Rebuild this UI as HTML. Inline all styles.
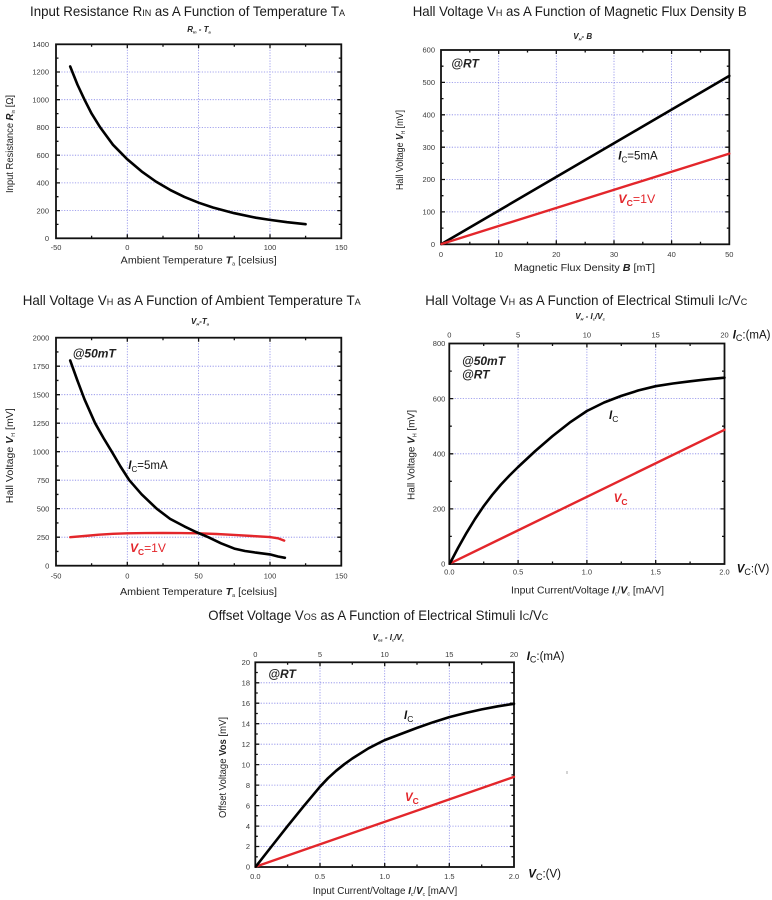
<!DOCTYPE html>
<html><head><meta charset="utf-8"><style>
html,body{margin:0;padding:0;background:#fff;}
svg{display:block;}
text{font-family:"Liberation Sans",Arial,sans-serif;}
.t{font-size:14px;fill:#1a1a1a;}
.tk{font-size:7.5px;fill:#3a3a3a;}
.ax{font-size:10px;fill:#222;}
.g{stroke:#8888e8;stroke-width:0.8;stroke-dasharray:1.2 1.5;fill:none;}
.fr{fill:none;stroke:#111;stroke-width:1.8;}
.tm{stroke:#111;stroke-width:1.3;fill:none;}
.cb{fill:none;stroke:#000;stroke-width:2.6;stroke-linejoin:round;stroke-linecap:round;}
.cr{fill:none;stroke:#e3262b;stroke-width:2.4;stroke-linejoin:round;stroke-linecap:round;}
.st{font-size:8px;font-weight:bold;font-style:italic;fill:#222;}
.lb{font-size:11.5px;fill:#111;}
.lr{font-size:11.5px;fill:#e3262b;}
.at{font-size:12px;font-weight:bold;font-style:italic;fill:#222;}
.bi{font-weight:bold;font-style:italic;}
</style></head><body>
<svg width="772" height="900" viewBox="0 0 772 900" xmlns="http://www.w3.org/2000/svg">
<rect width="772" height="900" fill="#fff"/>

<!-- ================= Chart 1 ================= -->
<text class="t" x="30" y="16" textLength="315" lengthAdjust="spacingAndGlyphs">Input Resistance R<tspan font-size="9.5">IN</tspan> as A Function of Temperature T<tspan font-size="9.5">A</tspan></text>
<text class="st" x="199" y="32" text-anchor="middle">R<tspan font-size="4" dy="1.5">in</tspan><tspan dy="-1.5"> - T</tspan><tspan font-size="4" dy="1.5">a</tspan></text>
<path class="g" d="M127.3 44.3V238.3M198.6 44.3V238.3M270 44.3V238.3M56 72H341.3M56 99.7H341.3M56 127.4H341.3M56 155.2H341.3M56 182.9H341.3M56 210.6H341.3"/>
<path class="tm" d="M56 72h4M56 99.7h4M56 127.4h4M56 155.2h4M56 182.9h4M56 210.6h4M56 58.1h2.5M56 85.8h2.5M56 113.6h2.5M56 141.3h2.5M56 169h2.5M56 196.7h2.5M56 224.4h2.5M341.3 72h-4M341.3 99.7h-4M341.3 127.4h-4M341.3 155.2h-4M341.3 182.9h-4M341.3 210.6h-4M341.3 58.1h-2.5M341.3 85.8h-2.5M341.3 113.6h-2.5M341.3 141.3h-2.5M341.3 169h-2.5M341.3 196.7h-2.5M341.3 224.4h-2.5M127.3 238.3v-4M198.6 238.3v-4M270 238.3v-4M91.6 238.3v-2.5M163 238.3v-2.5M234.3 238.3v-2.5M305.6 238.3v-2.5M127.3 44.3v4M198.6 44.3v4M270 44.3v4M91.6 44.3v2.5M163 44.3v2.5M234.3 44.3v2.5M305.6 44.3v2.5"/>
<rect class="fr" x="56" y="44.3" width="285.3" height="194"/>
<path class="cb" d="M70.2 66.5L77.4 84.5L84.5 99.7L91.6 113.6L100.2 127.4L113 144.8L127.3 159.3L141.6 171.4L155.8 181.5L170.1 189.9L184.4 196.9L198.6 202.7L212.9 207.5L234.3 213.2L255.7 217.7L270 219.9L287.1 222.2L305.6 224.2"/>
<g class="tk" text-anchor="end">
<text x="49" y="47">1400</text><text x="49" y="74.7">1200</text><text x="49" y="102.4">1000</text><text x="49" y="130.1">800</text><text x="49" y="157.9">600</text><text x="49" y="185.6">400</text><text x="49" y="213.3">200</text><text x="49" y="241">0</text>
</g>
<g class="tk" text-anchor="middle">
<text x="56" y="250">-50</text><text x="127.3" y="250">0</text><text x="198.6" y="250">50</text><text x="270" y="250">100</text><text x="341.3" y="250">150</text>
</g>
<text class="ax" x="120.7" y="263.5" textLength="156" lengthAdjust="spacingAndGlyphs">Ambient Temperature <tspan class="bi">T</tspan><tspan font-size="5" dy="2">a</tspan><tspan dy="-2"> [celsius]</tspan></text>
<text class="ax" transform="translate(13,144) rotate(-90)" text-anchor="middle" textLength="98" lengthAdjust="spacingAndGlyphs">Input Resistance <tspan class="bi">R</tspan><tspan font-size="5" dy="2">in</tspan><tspan dy="-2"> [Ω]</tspan></text>

<!-- ================= Chart 2 ================= -->
<text class="t" x="412.7" y="16" textLength="334" lengthAdjust="spacingAndGlyphs">Hall Voltage V<tspan font-size="9.5">H</tspan> as A Function of Magnetic Flux Density B</text>
<text class="st" x="582.7" y="39" text-anchor="middle">V<tspan font-size="4" dy="1.5">H</tspan><tspan dy="-1.5">- B</tspan></text>
<path class="g" d="M498.7 50V244.3M556.3 50V244.3M614 50V244.3M671.6 50V244.3M441 82.4H729.3M441 114.8H729.3M441 147.2H729.3M441 179.5H729.3M441 211.9H729.3"/>
<path class="tm" d="M441 82.4h4M441 114.8h4M441 147.2h4M441 179.5h4M441 211.9h4M441 66.2h2.5M441 98.6h2.5M441 131h2.5M441 163.3h2.5M441 195.7h2.5M441 228.1h2.5M729.3 82.4h-4M729.3 114.8h-4M729.3 147.2h-4M729.3 179.5h-4M729.3 211.9h-4M729.3 66.2h-2.5M729.3 98.6h-2.5M729.3 131h-2.5M729.3 163.3h-2.5M729.3 195.7h-2.5M729.3 228.1h-2.5M498.7 244.3v-4M556.3 244.3v-4M614 244.3v-4M671.6 244.3v-4M469.8 244.3v-2.5M527.5 244.3v-2.5M585.2 244.3v-2.5M642.8 244.3v-2.5M700.5 244.3v-2.5M498.7 50v4M556.3 50v4M614 50v4M671.6 50v4M469.8 50v2.5M527.5 50v2.5M585.2 50v2.5M642.8 50v2.5M700.5 50v2.5"/>
<rect class="fr" x="441" y="50" width="288.3" height="194.3"/>
<path class="cb" d="M441.5 244L729.3 75.9"/>
<path class="cr" d="M441.5 244L729.3 153.6"/>
<text class="at" x="451.3" y="67.5">@RT</text>
<text class="lb" x="618.3" y="159.5"><tspan class="bi">I</tspan><tspan font-size="8" dy="3">C</tspan><tspan dy="-3">=5mA</tspan></text>
<text class="lr" x="618.3" y="203" textLength="37" lengthAdjust="spacingAndGlyphs"><tspan class="bi">V</tspan><tspan font-size="8" dy="3" font-weight="bold">C</tspan><tspan dy="-3">=1V</tspan></text>
<g class="tk" text-anchor="end">
<text x="435" y="52.7">600</text><text x="435" y="85.1">500</text><text x="435" y="117.5">400</text><text x="435" y="149.9">300</text><text x="435" y="182.2">200</text><text x="435" y="214.6">100</text><text x="435" y="247">0</text>
</g>
<g class="tk" text-anchor="middle">
<text x="441" y="257">0</text><text x="498.7" y="257">10</text><text x="556.3" y="257">20</text><text x="614" y="257">30</text><text x="671.6" y="257">40</text><text x="729.3" y="257">50</text>
</g>
<text class="ax" x="514" y="271" textLength="141" lengthAdjust="spacingAndGlyphs">Magnetic Flux Density <tspan class="bi">B</tspan> [mT]</text>
<text class="ax" transform="translate(403,150) rotate(-90)" text-anchor="middle" textLength="80" lengthAdjust="spacingAndGlyphs">Hall Voltage <tspan class="bi">V</tspan><tspan font-size="5" dy="2">H</tspan><tspan dy="-2"> [mV]</tspan></text>

<!-- ================= Chart 3 ================= -->
<text class="t" x="22.7" y="305" textLength="338" lengthAdjust="spacingAndGlyphs">Hall Voltage V<tspan font-size="9.5">H</tspan> as A Function of Ambient Temperature T<tspan font-size="9.5">A</tspan></text>
<text class="st" x="200" y="324" text-anchor="middle">V<tspan font-size="4" dy="1.5">H</tspan><tspan dy="-1.5">-T</tspan><tspan font-size="4" dy="1.5">a</tspan></text>
<path class="g" d="M127.3 337.7V565.7M198.6 337.7V565.7M270 337.7V565.7M56 366.2H341.3M56 394.7H341.3M56 423.2H341.3M56 451.7H341.3M56 480.2H341.3M56 508.7H341.3M56 537.2H341.3"/>
<path class="tm" d="M56 366.2h4M56 394.7h4M56 423.2h4M56 451.7h4M56 480.2h4M56 508.7h4M56 537.2h4M56 351.95h2.5M56 380.45h2.5M56 408.95h2.5M56 437.45h2.5M56 465.95h2.5M56 494.45h2.5M56 522.95h2.5M56 551.45h2.5M341.3 366.2h-4M341.3 394.7h-4M341.3 423.2h-4M341.3 451.7h-4M341.3 480.2h-4M341.3 508.7h-4M341.3 537.2h-4M341.3 351.95h-2.5M341.3 380.45h-2.5M341.3 408.95h-2.5M341.3 437.45h-2.5M341.3 465.95h-2.5M341.3 494.45h-2.5M341.3 522.95h-2.5M341.3 551.45h-2.5M127.3 565.7v-4M198.6 565.7v-4M270 565.7v-4M91.6 565.7v-2.5M163 565.7v-2.5M234.3 565.7v-2.5M305.6 565.7v-2.5M127.3 337.7v4M198.6 337.7v4M270 337.7v4M91.6 337.7v2.5M163 337.7v2.5M234.3 337.7v2.5M305.6 337.7v2.5"/>
<rect class="fr" x="56" y="337.7" width="285.3" height="228"/>
<path class="cr" d="M70.2 537.2L84.5 536L98.8 534.7L113 533.8L127.3 533.3L145 533.1L163 533L181 533.1L198.6 533.3L216.5 534L234.3 534.9L252 536L270 537.1L278 538.3L284.2 540.6"/>
<path class="cb" d="M70.2 360.5L77.4 380.5L84.5 399.3L95.1 423.2L103.5 438L111.8 451.7L120.5 466.5L129.3 480.2L141.6 494.3L156.7 508.7L170.1 518.9L184.4 526.4L196 532L208.3 537.2L221 543.3L234.3 548.6L245 551L255.7 552.6L270 554.4L278 556.5L284.9 557.8"/>
<text class="at" x="72.7" y="357.5">@50mT</text>
<text class="lb" x="128.3" y="469"><tspan class="bi">I</tspan><tspan font-size="8" dy="3">C</tspan><tspan dy="-3">=5mA</tspan></text>
<text class="lr" x="130" y="552" textLength="36" lengthAdjust="spacingAndGlyphs"><tspan class="bi">V</tspan><tspan font-size="8" dy="3" font-weight="bold">C</tspan><tspan dy="-3">=1V</tspan></text>
<g class="tk" text-anchor="end">
<text x="49.3" y="340.4">2000</text><text x="49.3" y="368.9">1750</text><text x="49.3" y="397.4">1500</text><text x="49.3" y="425.9">1250</text><text x="49.3" y="454.4">1000</text><text x="49.3" y="482.9">750</text><text x="49.3" y="511.4">500</text><text x="49.3" y="539.9">250</text><text x="49.3" y="568.4">0</text>
</g>
<g class="tk" text-anchor="middle">
<text x="56" y="578.7">-50</text><text x="127.3" y="578.7">0</text><text x="198.6" y="578.7">50</text><text x="270" y="578.7">100</text><text x="341.3" y="578.7">150</text>
</g>
<text class="ax" x="120" y="595" textLength="157" lengthAdjust="spacingAndGlyphs">Ambient Temperature <tspan class="bi">T</tspan><tspan font-size="5" dy="2">a</tspan><tspan dy="-2"> [celsius]</tspan></text>
<text class="ax" transform="translate(13,455.7) rotate(-90)" text-anchor="middle" textLength="95" lengthAdjust="spacingAndGlyphs">Hall Voltage <tspan class="bi">V</tspan><tspan font-size="5" dy="2">H</tspan><tspan dy="-2"> [mV]</tspan></text>

<!-- ================= Chart 4 ================= -->
<text class="t" x="425.3" y="305" textLength="322" lengthAdjust="spacingAndGlyphs">Hall Voltage V<tspan font-size="9.5">H</tspan> as A Function of Electrical Stimuli I<tspan font-size="9.5">C</tspan>/V<tspan font-size="9.5">C</tspan></text>
<text class="st" x="590" y="319" text-anchor="middle">V<tspan font-size="4" dy="1.5">H</tspan><tspan dy="-1.5"> - I</tspan><tspan font-size="4" dy="1.5">c</tspan><tspan dy="-1.5">/V</tspan><tspan font-size="4" dy="1.5">c</tspan></text>
<path class="g" d="M518.1 343.5V564M586.9 343.5V564M655.7 343.5V564M449.3 398.6H724.5M449.3 453.8H724.5M449.3 508.9H724.5"/>
<path class="tm" d="M449.3 398.6h4M449.3 453.8h4M449.3 508.9h4M449.3 371.1h2.5M449.3 426.2h2.5M449.3 481.3h2.5M449.3 536.4h2.5M724.5 398.6h-4M724.5 453.8h-4M724.5 508.9h-4M724.5 371.1h-2.5M724.5 426.2h-2.5M724.5 481.3h-2.5M724.5 536.4h-2.5M518.1 564v-4M586.9 564v-4M655.7 564v-4M483.7 564v-2.5M552.5 564v-2.5M621.3 564v-2.5M690.1 564v-2.5M518.1 343.5v4M586.9 343.5v4M655.7 343.5v4M483.7 343.5v2.5M552.5 343.5v2.5M621.3 343.5v2.5M690.1 343.5v2.5"/>
<rect class="fr" x="449.3" y="343.5" width="275.2" height="220.5"/>
<path class="cr" d="M449.8 563.6L724.5 429.8"/>
<path class="cb" d="M449.8 563.6L458 548L466.5 532.9L475 519L483.7 506.1L492.3 494.8L500.9 484.6L509.5 475.5L518.1 467L535.3 451L552.5 436.1L569.7 422.6L586.9 411L604.1 402.5L621.3 395.9L638.5 390.4L655.7 386.2L672.9 383.5L690.1 381.3L707.3 379.3L724.5 377.7"/>
<text class="at" x="462" y="365">@50mT</text>
<text class="at" x="462" y="378.5">@RT</text>
<text class="lb" x="609" y="419" font-size="12"><tspan class="bi">I</tspan><tspan font-size="8.5" dy="3">C</tspan></text>
<text class="lr" x="613.7" y="502" font-size="12"><tspan class="bi">V</tspan><tspan font-size="8.5" dy="3" font-weight="bold">C</tspan></text>
<g class="tk" text-anchor="end">
<text x="445.3" y="346.2">800</text><text x="445.3" y="401.3">600</text><text x="445.3" y="456.5">400</text><text x="445.3" y="511.6">200</text><text x="445.3" y="566.7">0</text>
</g>
<g class="tk" text-anchor="middle">
<text x="449.3" y="574.7">0.0</text><text x="518.1" y="574.7">0.5</text><text x="586.9" y="574.7">1.0</text><text x="655.7" y="574.7">1.5</text><text x="724.5" y="574.7">2.0</text>
<text x="449.3" y="337.3">0</text><text x="518.1" y="337.3">5</text><text x="586.9" y="337.3">10</text><text x="655.7" y="337.3">15</text><text x="724.5" y="337.3">20</text>
</g>
<text x="732.7" y="338.5" font-size="11.5" fill="#111"><tspan class="bi">I</tspan><tspan font-size="9" dy="2.5">C</tspan><tspan dy="-2.5">:(mA)</tspan></text>
<text x="736.7" y="572.5" font-size="11.5" fill="#111"><tspan class="bi">V</tspan><tspan font-size="9" dy="2.5">C</tspan><tspan dy="-2.5">:(V)</tspan></text>
<text class="ax" x="511" y="593.5" textLength="153" lengthAdjust="spacingAndGlyphs">Input Current/Voltage <tspan class="bi">I</tspan><tspan font-size="5" dy="2">c</tspan><tspan dy="-2">/</tspan><tspan class="bi">V</tspan><tspan font-size="5" dy="2">c</tspan><tspan dy="-2">  [mA/V]</tspan></text>
<text class="ax" transform="translate(414.5,455) rotate(-90)" text-anchor="middle" textLength="90" lengthAdjust="spacingAndGlyphs">Hall Voltage <tspan class="bi">V</tspan><tspan font-size="5" dy="2">H</tspan><tspan dy="-2"> [mV]</tspan></text>

<!-- ================= Chart 5 ================= -->
<text class="t" x="208.3" y="620" textLength="340" lengthAdjust="spacingAndGlyphs">Offset Voltage V<tspan font-size="9.5">OS</tspan> as A Function of Electrical Stimuli I<tspan font-size="9.5">C</tspan>/V<tspan font-size="9.5">C</tspan></text>
<text class="st" x="388.3" y="640" text-anchor="middle">V<tspan font-size="4" dy="1.5">os</tspan><tspan dy="-1.5"> - I</tspan><tspan font-size="4" dy="1.5">c</tspan><tspan dy="-1.5">/V</tspan><tspan font-size="4" dy="1.5">c</tspan></text>
<path class="g" d="M320 662.3V867M384.7 662.3V867M449.3 662.3V867M255.3 846.5H514M255.3 826.1H514M255.3 805.6H514M255.3 785.1H514M255.3 764.65H514M255.3 744.2H514M255.3 723.7H514M255.3 703.2H514M255.3 682.8H514"/>
<path class="tm" d="M255.3 846.5h4M255.3 826.1h4M255.3 805.6h4M255.3 785.1h4M255.3 764.65h4M255.3 744.2h4M255.3 723.7h4M255.3 703.2h4M255.3 682.8h4M255.3 856.8h2.5M255.3 836.3h2.5M255.3 815.8h2.5M255.3 795.4h2.5M255.3 774.9h2.5M255.3 754.4h2.5M255.3 734h2.5M255.3 713.5h2.5M255.3 693h2.5M255.3 672.5h2.5M514 846.5h-4M514 826.1h-4M514 805.6h-4M514 785.1h-4M514 764.65h-4M514 744.2h-4M514 723.7h-4M514 703.2h-4M514 682.8h-4M514 856.8h-2.5M514 836.3h-2.5M514 815.8h-2.5M514 795.4h-2.5M514 774.9h-2.5M514 754.4h-2.5M514 734h-2.5M514 713.5h-2.5M514 693h-2.5M514 672.5h-2.5M320 867v-4M384.7 867v-4M449.3 867v-4M287.6 867v-2.5M352.3 867v-2.5M417 867v-2.5M481.7 867v-2.5M320 662.3v4M384.7 662.3v4M449.3 662.3v4M287.6 662.3v2.5M352.3 662.3v2.5M417 662.3v2.5M481.7 662.3v2.5"/>
<rect class="fr" x="255.3" y="662.3" width="258.7" height="204.7"/>
<path class="cr" d="M255.8 866.6L514 776.9"/>
<path class="cb" d="M255.8 866.6L271.5 846.5L287.6 826.1L303.8 806.1L320 786.7L328 778.2L336.1 770.8L344.2 764.3L352.3 758.5L368.5 748.3L384.7 740.1L400.8 734L417 727.9L433.2 722.2L449.3 717.1L465.5 713L481.7 709.4L497.9 706.3L514 703.8"/>
<text class="at" x="268.3" y="678">@RT</text>
<text class="lb" x="404" y="719" font-size="12"><tspan class="bi">I</tspan><tspan font-size="8.5" dy="3">C</tspan></text>
<text class="lr" x="405" y="801" font-size="12"><tspan class="bi">V</tspan><tspan font-size="8.5" dy="3" font-weight="bold">C</tspan></text>
<g class="tk" text-anchor="end">
<text x="250" y="665">20</text><text x="250" y="685.5">18</text><text x="250" y="705.9">16</text><text x="250" y="726.4">14</text><text x="250" y="746.9">12</text><text x="250" y="767.4">10</text><text x="250" y="787.8">8</text><text x="250" y="808.3">6</text><text x="250" y="828.8">4</text><text x="250" y="849.2">2</text><text x="250" y="869.7">0</text>
</g>
<g class="tk" text-anchor="middle">
<text x="255.3" y="879">0.0</text><text x="320" y="879">0.5</text><text x="384.7" y="879">1.0</text><text x="449.3" y="879">1.5</text><text x="514" y="879">2.0</text>
<text x="255.3" y="657">0</text><text x="320" y="657">5</text><text x="384.7" y="657">10</text><text x="449.3" y="657">15</text><text x="514" y="657">20</text>
</g>
<text x="526.7" y="660" font-size="11.5" fill="#111"><tspan class="bi">I</tspan><tspan font-size="9" dy="2.5">C</tspan><tspan dy="-2.5">:(mA)</tspan></text>
<text x="528.3" y="877.5" font-size="11.5" fill="#111"><tspan class="bi">V</tspan><tspan font-size="9" dy="2.5">C</tspan><tspan dy="-2.5">:(V)</tspan></text>
<text class="ax" x="312.7" y="894" textLength="144.6" lengthAdjust="spacingAndGlyphs">Input Current/Voltage <tspan class="bi">I</tspan><tspan font-size="5" dy="2">c</tspan><tspan dy="-2">/</tspan><tspan class="bi">V</tspan><tspan font-size="5" dy="2">c</tspan><tspan dy="-2">  [mA/V]</tspan></text>
<text class="ax" transform="translate(226,767.5) rotate(-90)" text-anchor="middle" textLength="101" lengthAdjust="spacingAndGlyphs">Offset Voltage <tspan font-weight="bold">Vos</tspan> [mV]</text>
<rect x="566.5" y="771" width="1" height="3" fill="#aaa"/>
</svg>
</body></html>
